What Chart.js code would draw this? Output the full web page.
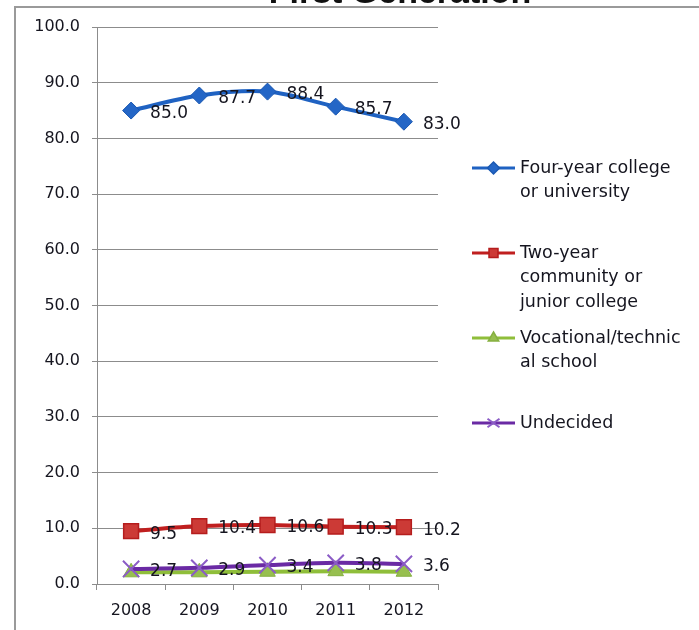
<!DOCTYPE html>
<html>
<head>
<meta charset="utf-8">
<script src="https://cdn.jsdelivr.net/npm/chart.js@4.4.1/dist/chart.umd.min.js"></script>
<style>
  html, body { margin: 0; padding: 0; background: #ffffff; }
  canvas { display: block; }
</style>
</head>
<body>
<canvas id="chart" width="699" height="630"></canvas>
<script>
// Post-secondary plans of first-generation students, % by year
const years = ['2008', '2009', '2010', '2011', '2012'];
const fourYear = [85.0, 87.7, 88.4, 85.7, 83.0];
const twoYear = [9.5, 10.4, 10.6, 10.3, 10.2];
const vocational = [2.1, 2.1, 2.2, 2.3, 2.2];
const undecided = [2.7, 2.9, 3.4, 3.8, 3.6];
const seriesNames = [
  ['Four-year college', 'or university'],
  ['Two-year', 'community or', 'junior college'],
  ['Vocational/technic', 'al school'],
  ['Undecided']
];
const titleText = 'First Generation';

const FONT = '"DejaVu Sans", sans-serif';
const TEXT = '#15151f';
const GRID = '#8c8c8c';

// simple marker painter shared by the legend
function marker(ctx, style, x, y, r, fill, stroke) {
  ctx.save();
  ctx.fillStyle = fill;
  ctx.strokeStyle = stroke;
  ctx.lineWidth = 1.5;
  ctx.beginPath();
  if (style === 'rectRot') {
    ctx.moveTo(x, y - r); ctx.lineTo(x + r, y); ctx.lineTo(x, y + r); ctx.lineTo(x - r, y); ctx.closePath();
    ctx.fill(); ctx.stroke();
  } else if (style === 'rect') {
    const s = r * 0.75;
    ctx.rect(x - s, y - s, 2 * s, 2 * s); ctx.fill(); ctx.stroke();
  } else if (style === 'triangle') {
    ctx.moveTo(x, y - r); ctx.lineTo(x + r * 0.87, y + r * 0.5); ctx.lineTo(x - r * 0.87, y + r * 0.5); ctx.closePath();
    ctx.fill(); ctx.stroke();
  } else {
    ctx.lineWidth = 2;
    ctx.moveTo(x - r, y - r * 0.7); ctx.lineTo(x + r, y + r * 0.7);
    ctx.moveTo(x - r, y + r * 0.7); ctx.lineTo(x + r, y - r * 0.7);
    ctx.stroke();
  }
  ctx.restore();
}

// outer frame and the (partly visible) title
const framePlugin = {
  id: 'frame',
  beforeDraw(chart) {
    const ctx = chart.ctx;
    ctx.save();
    ctx.fillStyle = '#ffffff';
    ctx.fillRect(0, 0, chart.width, chart.height);
    ctx.fillStyle = '#111111';
    ctx.font = 'bold 34px "Liberation Sans", Arial, sans-serif';
    ctx.textAlign = 'center';
    ctx.textBaseline = 'alphabetic';
    ctx.fillText(titleText, 400, 3);
    ctx.strokeStyle = '#9a9a9a';
    ctx.lineWidth = 2;
    ctx.beginPath();
    ctx.moveTo(15, chart.height);
    ctx.lineTo(15, 7);
    ctx.lineTo(chart.width, 7);
    ctx.stroke();
    ctx.restore();
  }
};

// value labels to the right of each point
const valueLabels = {
  id: 'valueLabels',
  afterDatasetsDraw(chart) {
    const ctx = chart.ctx;
    ctx.save();
    ctx.font = '17px ' + FONT;
    ctx.fillStyle = TEXT;
    ctx.textAlign = 'left';
    ctx.textBaseline = 'middle';
    chart.data.datasets.forEach((ds, i) => {
      if (!ds.showValues) return;
      chart.getDatasetMeta(i).data.forEach((pt, j) => {
        ctx.fillText(ds.data[j].toFixed(1), pt.x + 19, pt.y + 3);
      });
    });
    ctx.restore();
  }
};

// legend at the right with wrapped names
const sideLegend = {
  id: 'sideLegend',
  afterDraw(chart) {
    const ctx = chart.ctx;
    ctx.save();
    ctx.font = '17.5px ' + FONT;
    ctx.textAlign = 'left';
    ctx.textBaseline = 'middle';
    chart.data.datasets.forEach((ds, i) => {
      const y = 168 + 85 * i;
      ctx.strokeStyle = ds.borderColor;
      ctx.lineWidth = 3;
      ctx.beginPath();
      ctx.moveTo(472, y);
      ctx.lineTo(515, y);
      ctx.stroke();
      marker(ctx, ds.pointStyle, 493.5, y, 6, ds.pointBackgroundColor, ds.pointBorderColor);
      ctx.fillStyle = TEXT;
      ds.names.forEach((line, k) => ctx.fillText(line, 520, y + k * 24.5));
    });
    ctx.restore();
  }
};

new Chart(document.getElementById('chart'), {
  type: 'line',
  data: {
    labels: years,
    datasets: [
      {
        label: seriesNames[0].join(' '), names: seriesNames[0], data: fourYear, showValues: true, order: 3,
        borderColor: '#1f62c2', borderWidth: 4, tension: 0.3,
        pointStyle: 'rectRot', pointRadius: 8.5, pointBackgroundColor: '#2466c6', pointBorderColor: '#1a58b2', pointBorderWidth: 1
      },
      {
        label: seriesNames[1].join(' '), names: seriesNames[1], data: twoYear, showValues: true, order: 2,
        borderColor: '#c01f1f', borderWidth: 4, tension: 0.3,
        pointStyle: 'rect', pointRadius: 10.5, pointBackgroundColor: '#cc3a36', pointBorderColor: '#b51d1d', pointBorderWidth: 1.5
      },
      {
        label: seriesNames[2].join(' '), names: seriesNames[2], data: vocational, showValues: false, order: 1,
        borderColor: '#8fbe3a', borderWidth: 4, tension: 0.3,
        pointStyle: 'triangle', pointRadius: 9, pointBackgroundColor: '#97bf4f', pointBorderColor: '#86b040', pointBorderWidth: 1
      },
      {
        label: seriesNames[3].join(' '), names: seriesNames[3], data: undecided, showValues: true, order: 0,
        borderColor: '#6a2aa4', borderWidth: 4, tension: 0.3,
        pointStyle: 'crossRot', pointRadius: 11.5, pointBackgroundColor: '#8b5cc6', pointBorderColor: '#8b5cc6', pointBorderWidth: 2
      }
    ]
  },
  options: {
    responsive: false,
    animation: false,
    events: [],
    layout: { padding: { left: 0, top: 27, right: 261, bottom: 0 } },
    plugins: {
      legend: { display: false },
      title: { display: false },
      tooltip: { enabled: false }
    },
    scales: {
      x: {
        type: 'category',
        offset: true,
        grid: { display: true, offset: true, drawOnChartArea: false, drawTicks: true, tickLength: 6, color: GRID },
        border: { display: true, color: GRID, width: 1 },
        ticks: { color: TEXT, font: { family: FONT, size: 16 }, padding: 11, maxRotation: 0, autoSkip: false },
        afterFit(s) { s.height = 46; }
      },
      y: {
        min: 0,
        max: 100,
        grid: { color: GRID, lineWidth: 1, tickLength: 5, drawTicks: true },
        border: { display: true, color: GRID, width: 1 },
        ticks: {
          stepSize: 10,
          color: TEXT,
          padding: 12,
          font: { family: FONT, size: 16 },
          callback: v => Number(v).toFixed(1)
        },
        afterFit(s) { s.width = 97; }
      }
    }
  },
  plugins: [framePlugin, valueLabels, sideLegend]
});
</script>
</body>
</html>
